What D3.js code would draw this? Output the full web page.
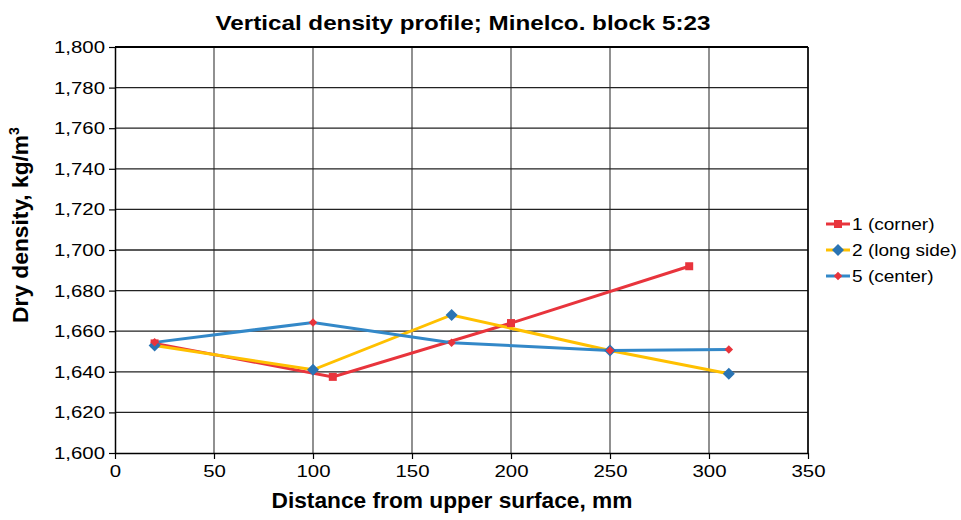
<!DOCTYPE html>
<html>
<head>
<meta charset="utf-8">
<script src="https://cdn.jsdelivr.net/npm/d3@7"></script>
<style>
  body { margin: 0; background: #fff; }
  svg text { font-family: "Liberation Sans", Arial, sans-serif; }
</style>
</head>
<body>
<div id="chart"></div>
<script>
// data
var xTicks = [0, 50, 100, 150, 200, 250, 300, 350];
var yTicks = [1600, 1620, 1640, 1660, 1680, 1700, 1720, 1740, 1760, 1780, 1800];
var seriesNames = ["1 (corner)", "2 (long side)", "5 (center)"];
var cornerX = [20, 110, 200, 290];
var cornerY = [1654, 1637.5, 1664, 1692];
var longSideX = [20, 100, 170, 250, 310];
var longSideY = [1653, 1641, 1668, 1650.5, 1639];
var centerX = [20, 100, 170, 250, 310];
var centerY = [1654.5, 1664.3, 1654.3, 1650.5, 1651];

var width = 961, height = 520;
var margin = { left: 115, right: 153, top: 47, bottom: 67 };

var svg = d3.select("#chart").append("svg")
    .attr("width", width).attr("height", height);

var x = d3.scaleLinear().domain([0, 350]).range([margin.left, width - margin.right]);
var y = d3.scaleLinear().domain([1600, 1800]).range([height - margin.bottom, margin.top]);

var fmt = d3.format(",");

// the original text is a bit wider than Liberation Sans
function stretch(sel, k) {
    sel.each(function () {
        var w = this.getComputedTextLength();
        d3.select(this).attr("textLength", w * k).attr("lengthAdjust", "spacingAndGlyphs");
    });
}

// grid
svg.append("g").selectAll("line").data(xTicks.slice(1)).enter().append("line")
    .attr("x1", d => x(d)).attr("x2", d => x(d))
    .attr("y1", y(1800)).attr("y2", y(1600))
    .attr("stroke", "#555").attr("stroke-width", 1.3);
svg.append("g").selectAll("line").data(yTicks.slice(1)).enter().append("line")
    .attr("x1", x(0)).attr("x2", x(350))
    .attr("y1", d => y(d)).attr("y2", d => y(d))
    .attr("stroke", "#222").attr("stroke-width", 1.3);

// axes
var yAxis = svg.append("g")
    .attr("transform", "translate(" + x(0) + ",0)")
    .call(d3.axisLeft(y).tickValues(yTicks).tickFormat(fmt).tickSize(6).tickSizeOuter(0));
var xAxis = svg.append("g")
    .attr("transform", "translate(0," + y(1600) + ")")
    .call(d3.axisBottom(x).tickValues(xTicks).tickSize(6).tickSizeOuter(0));
[xAxis, yAxis].forEach(function (a) {
    a.select(".domain").attr("stroke", "#000").attr("stroke-width", 1.5);
    a.selectAll(".tick line").attr("stroke", "#000").attr("stroke-width", 1.2);
    a.selectAll(".tick text").attr("fill", "#000").style("font-size", "17px");
});
yAxis.selectAll(".tick text").attr("x", -10);
xAxis.selectAll(".tick text").attr("y", 12);
stretch(yAxis.selectAll(".tick text"), 1.2);
stretch(xAxis.selectAll(".tick text"), 1.2);

svg.append("line")
    .attr("x1", x(0)).attr("x2", x(350)).attr("y1", y(1800)).attr("y2", y(1800))
    .attr("stroke", "#000").attr("stroke-width", 2);
svg.append("line")
    .attr("x1", x(350)).attr("x2", x(350)).attr("y1", y(1800)).attr("y2", y(1600))
    .attr("stroke", "#000").attr("stroke-width", 1.5);

// titles
svg.append("text")
    .attr("x", 463).attr("y", 30)
    .attr("text-anchor", "middle")
    .attr("textLength", 495).attr("lengthAdjust", "spacingAndGlyphs")
    .style("font-size", "21px").style("font-weight", "bold")
    .text("Vertical density profile; Minelco. block 5:23");
svg.append("text")
    .attr("x", 452).attr("y", 508)
    .attr("text-anchor", "middle")
    .attr("textLength", 361).attr("lengthAdjust", "spacingAndGlyphs")
    .style("font-size", "22px").style("font-weight", "bold")
    .text("Distance from upper surface, mm");
var yt = svg.append("text")
    .attr("transform", "translate(28,225) rotate(-90)")
    .attr("text-anchor", "middle")
    .style("font-size", "22px").style("font-weight", "bold");
yt.append("tspan").attr("textLength", 188).attr("lengthAdjust", "spacingAndGlyphs").text("Dry density, kg/m");
yt.append("tspan").attr("dy", -9).style("font-size", "14px").text("3");

// series
var diamond = d3.symbolSquare;
var series = [
    { name: seriesNames[0], xs: cornerX, ys: cornerY, line: "#e8343c", mark: "#e8343c", symbol: d3.symbolSquare, size: 64, rot: 0 },
    { name: seriesNames[1], xs: longSideX, ys: longSideY, line: "#ffc000", mark: "#2a74b4", symbol: diamond, size: 72, rot: 45 },
    { name: seriesNames[2], xs: centerX, ys: centerY, line: "#3388c8", mark: "#e8343c", symbol: diamond, size: 36, rot: 45 }
];

var line = d3.line().x(d => x(d[0])).y(d => y(d[1]));

series.forEach(function (s) {
    var pts = s.xs.map((v, i) => [v, s.ys[i]]);
    svg.append("path").datum(pts)
        .attr("fill", "none").attr("stroke", s.line).attr("stroke-width", 3)
        .attr("d", line);
});
series.forEach(function (s) {
    var pts = s.xs.map((v, i) => [v, s.ys[i]]);
    svg.append("g").selectAll("path").data(pts).enter().append("path")
        .attr("transform", d => "translate(" + x(d[0]) + "," + y(d[1]) + ") rotate(" + s.rot + ")")
        .attr("d", d3.symbol().type(s.symbol).size(s.size))
        .attr("fill", s.mark);
});

// legend
var legend = svg.append("g").attr("transform", "translate(826,224)");
series.forEach(function (s, i) {
    var g = legend.append("g").attr("transform", "translate(0," + (i * 26) + ")");
    g.append("line").attr("x1", 0).attr("x2", 24).attr("y1", 0).attr("y2", 0)
        .attr("stroke", s.line).attr("stroke-width", 3);
    g.append("path").attr("transform", "translate(12,0) rotate(" + s.rot + ")")
        .attr("d", d3.symbol().type(s.symbol).size(s.size))
        .attr("fill", s.mark);
    g.append("text").attr("x", 26).attr("y", 6)
        .style("font-size", "17px").text(s.name);
});
stretch(legend.selectAll("text"), 1.12);
</script>
</body>
</html>
